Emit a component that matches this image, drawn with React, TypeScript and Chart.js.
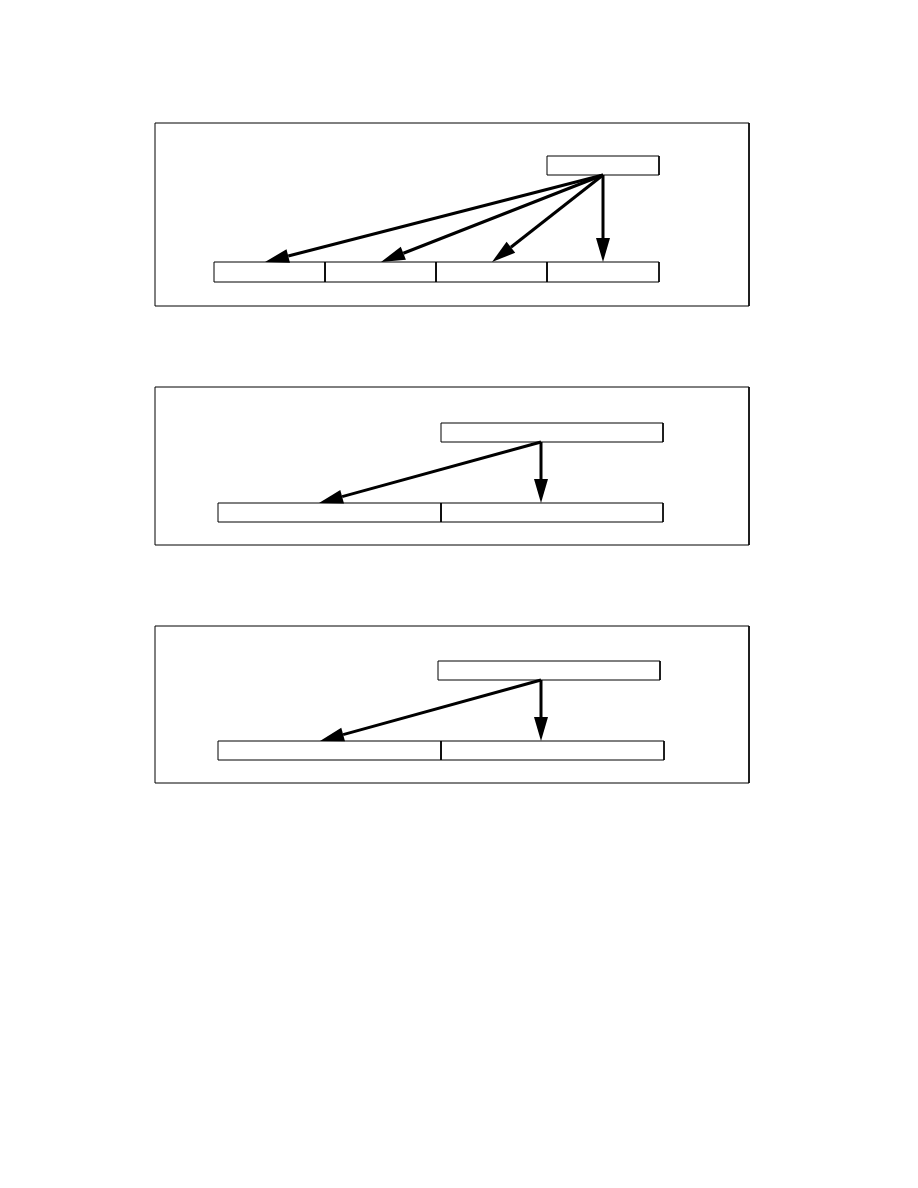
import { useEffect, useRef } from "react";
import { Chart, registerables } from "chart.js";

Chart.register(...registerables);

// page is laid out in pixel units, y going down
const frames = [
  [155, 123, 749, 306],
  [155, 387, 749, 545],
  [155, 626, 749, 783],
];
const topBoxes = [
  [547, 156, 659, 175],
  [441, 423, 663, 442],
  [438, 661, 660, 680],
];
const rowCells = [
  [214, 262, 325, 282],
  [325, 262, 436, 282],
  [436, 262, 547, 282],
  [547, 262, 659, 282],
  [218, 503, 441, 522],
  [441, 503, 663, 522],
  [218, 741, 441, 760],
  [441, 741, 664, 760],
];
// [fromX, fromY, toX, toY]
const arrows = [
  [603, 175, 265, 262],
  [603, 175, 381, 262],
  [603, 175, 492, 262],
  [603, 175, 603, 262],
  [541, 442, 319, 503],
  [541, 442, 541, 503],
  [541, 680, 320, 741],
  [541, 680, 541, 741],
];

const rectPoints = (r: number[]) => [
  { x: r[0], y: r[1] },
  { x: r[2], y: r[1] },
  { x: r[2], y: r[3] },
  { x: r[0], y: r[3] },
  { x: r[0], y: r[1] },
];

const arrowPlugin = {
  id: "arrows",
  afterDatasetsDraw(chart: any) {
    const { ctx, scales } = chart;
    ctx.save();
    ctx.fillStyle = "#000";
    ctx.strokeStyle = "#000";
    ctx.lineWidth = 3;
    arrows.forEach((a) => {
      const x1 = scales.x.getPixelForValue(a[0]);
      const y1 = scales.y.getPixelForValue(a[1]);
      const x2 = scales.x.getPixelForValue(a[2]);
      const y2 = scales.y.getPixelForValue(a[3]);
      const ang = Math.atan2(y2 - y1, x2 - x1);
      const len = 24, half = 7;
      const bx = x2 - len * Math.cos(ang);
      const by = y2 - len * Math.sin(ang);
      ctx.beginPath();
      ctx.moveTo(x1, y1);
      ctx.lineTo(bx, by);
      ctx.stroke();
      ctx.beginPath();
      ctx.moveTo(x2, y2);
      ctx.lineTo(bx + half * Math.sin(ang), by - half * Math.cos(ang));
      ctx.lineTo(bx - half * Math.sin(ang), by + half * Math.cos(ang));
      ctx.closePath();
      ctx.fill();
    });
    ctx.restore();
  },
};

export default function App() {
  const canvasRef = useRef<HTMLCanvasElement | null>(null);

  useEffect(() => {
    document.body.style.margin = "0";
    if (!canvasRef.current) return;
    const rects = [...frames, ...topBoxes, ...rowCells];
    const chart = new Chart(canvasRef.current, {
      type: "scatter",
      data: {
        datasets: rects.map((r) => ({
          data: rectPoints(r),
          showLine: true,
          borderColor: "#000",
          borderWidth: 1,
          pointRadius: 0,
          fill: false,
          tension: 0,
        })),
      },
      options: {
        responsive: false,
        animation: false,
        layout: { padding: 0 },
        plugins: { legend: { display: false }, tooltip: { enabled: false } },
        scales: {
          x: { type: "linear", min: 0, max: 918, display: false },
          y: { type: "linear", min: 0, max: 1188, reverse: true, display: false },
        },
      },
      plugins: [arrowPlugin],
    });
    return () => chart.destroy();
  }, []);

  return (
    <div style={{ width: 918, height: 1188, background: "#fff" }}>
      <canvas ref={canvasRef} width={918} height={1188}></canvas>
    </div>
  );
}
